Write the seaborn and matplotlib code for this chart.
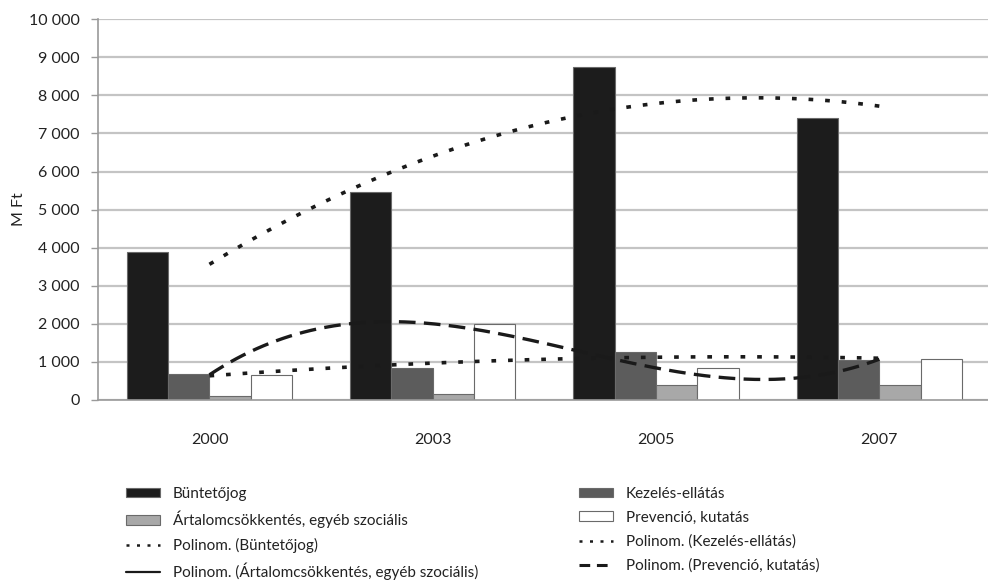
import numpy as np
import pandas as pd
import matplotlib.pyplot as plt
import seaborn as sns
from matplotlib.lines import Line2D
from matplotlib.patches import Patch
from matplotlib.ticker import FuncFormatter

years = ["2000", "2003", "2005", "2007"]
series = ["Büntetőjog", "Kezelés-ellátás",
          "Ártalomcsökkentés, egyéb szociális", "Prevenció, kutatás"]
buntetojog = [3880, 5450, 8740, 7400]
kezeles = [680, 830, 1260, 1050]
artalom = [100, 150, 390, 390]
prevencio = [660, 2000, 840, 1070]
trend_order = [2, 2, 2, 3]

colors = ["#1c1c1c", "#5c5c5c", "#a8a8a8", "#ffffff"]

df = pd.DataFrame({
    "year": years * 4,
    "series": np.repeat(series, 4),
    "value": buntetojog + kezeles + artalom + prevencio,
})

sns.set_style("white")
plt.rcParams["font.family"] = ["Lato", "DejaVu Sans"]

fig = plt.figure(figsize=(9.88, 5.83), dpi=100)
ax = fig.add_axes([0.099, 0.314, 0.904, 0.653])

sns.barplot(data=df, x="year", y="value", hue="series", palette=colors,
            width=0.74, saturation=1, edgecolor="#6a6a6a", linewidth=0.8,
            legend=False, ax=ax, zorder=2)

# polynomial trendlines (Excel style)
xs = np.linspace(0, 3, 200)
idx = np.arange(len(years))
dot = (0, (1.3, 3.3))
dash = (0, (5, 2.5))
styles = [dict(ls=dot, lw=2.6), dict(ls=dot, lw=2.6), None, dict(ls=dash, lw=2.4)]
for vals, order, st in zip([buntetojog, kezeles, artalom, prevencio], trend_order, styles):
    if st is None:
        continue
    coef = np.polyfit(idx, vals, order)
    ax.plot(xs, np.polyval(coef, xs), color="#1a1a1a", zorder=4, **st)

ax.set_xlim(-0.5, 3.5)
ax.set_ylim(0, 10000)
ax.set_yticks(np.arange(0, 10001, 1000))
ax.yaxis.set_major_formatter(FuncFormatter(lambda v, p: f"{int(v):,}".replace(",", " ")))
ax.grid(axis="y", color="#c4c4c4", lw=1.6, zorder=0)
ax.set_axisbelow(True)
ax.set_xlabel("")
ax.set_ylabel("M Ft", fontsize=11.5, color="#222222", labelpad=2)

ax.set_xticks(idx)
ax.set_xticklabels(years)
ax.set_xticks(np.arange(-0.5, 3.6, 1), minor=True)
ax.tick_params(axis="x", which="major", length=0, pad=24, labelsize=11.5, labelcolor="#222222")
ax.tick_params(axis="x", which="minor", length=5, color="#9a9a9a", width=1)
ax.tick_params(axis="y", length=5, color="#9a9a9a", width=1, labelsize=11.5,
               labelcolor="#222222", pad=8, left=True)
for s in ["top", "right"]:
    ax.spines[s].set_visible(False)
ax.spines["left"].set_color("#9a9a9a")
ax.spines["bottom"].set_color("#9a9a9a")
ax.spines["left"].set_linewidth(1.2)
ax.spines["bottom"].set_linewidth(1.2)

bar_h = [Patch(facecolor=c, edgecolor="#6a6a6a", lw=0.8) for c in colors]
trend_h = [Line2D([], [], color="#1a1a1a", lw=1.8, ls=(0, (1.2, 3.0))),
           Line2D([], [], color="#1a1a1a", lw=1.8, ls=(0, (1.2, 3.0))),
           Line2D([], [], color="#1a1a1a", lw=1.6),
           Line2D([], [], color="#1a1a1a", lw=2.2, ls=(0, (3.5, 2.2)))]
trend_l = ["Polinom. (" + s + ")" for s in series]
handles = [bar_h[0], bar_h[2], trend_h[0], trend_h[2],
           bar_h[1], bar_h[3], trend_h[1], trend_h[3]]
labels = [series[0], series[2], trend_l[0], trend_l[2],
          series[1], series[3], trend_l[1], trend_l[3]]
fig.legend(handles, labels, loc="upper left", bbox_to_anchor=(0.12, 0.178),
           ncol=2, frameon=False, fontsize=11, handlelength=2.2, handleheight=0.6,
           labelspacing=0.64, columnspacing=6.6, handletextpad=0.85, borderpad=0,
           labelcolor="#222222")

fig.savefig("out.png", dpi=100)
